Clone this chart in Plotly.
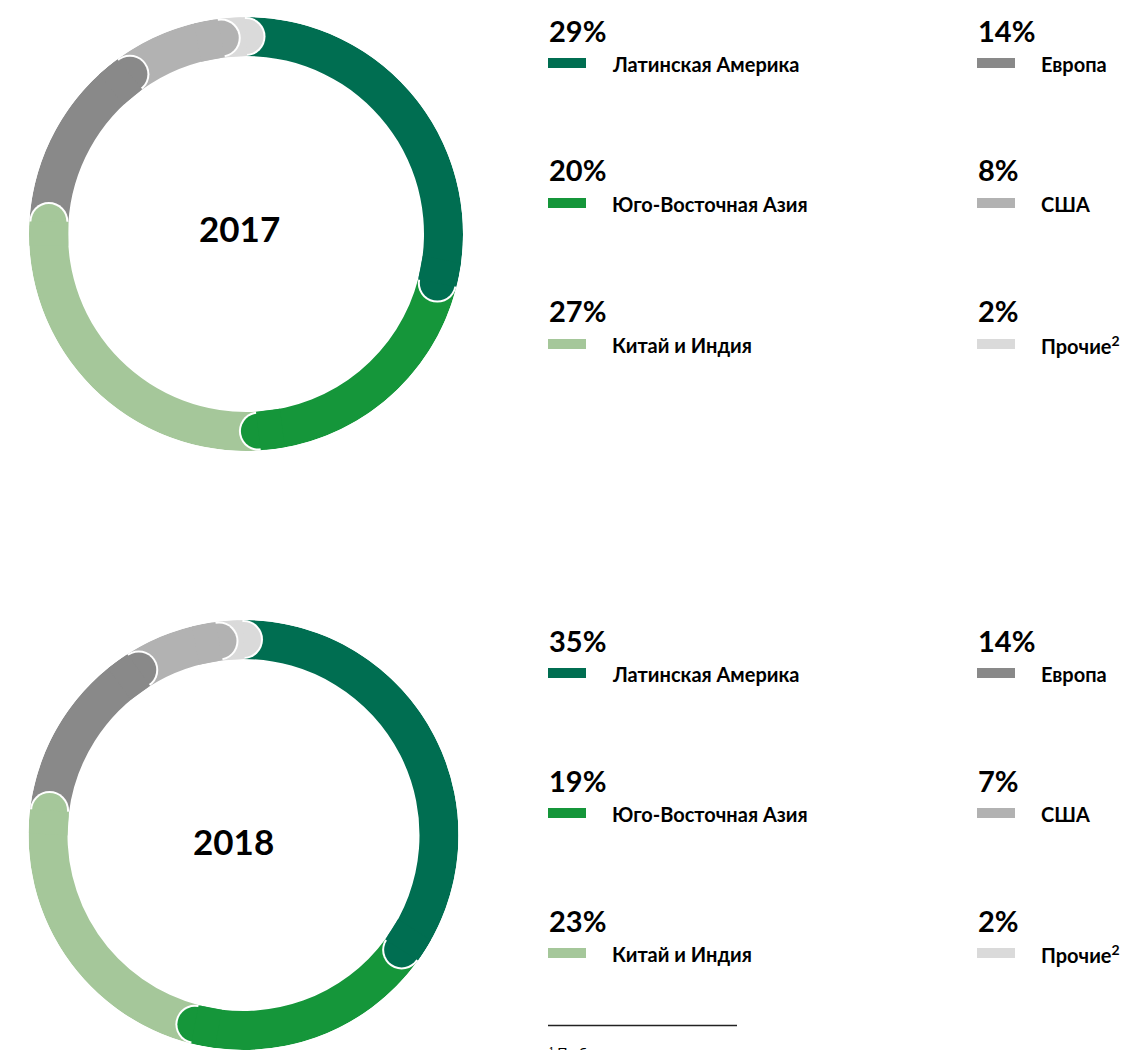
import numpy as np
import plotly.graph_objects as go

W, H = 1137, 1050

# ---------------- data ----------------
regions = ["Латинская Америка", "Юго-Восточная Азия", "Китай и Индия",
           "Европа", "США", "Прочие<sup>2</sup>"]
years = ["2017", "2018"]
shares_2017 = [29, 20, 27, 14, 8, 2]
shares_2018 = [35, 19, 23, 14, 7, 2]
colors = ["#006e51", "#15963a", "#a5c79a", "#898989", "#b2b2b2", "#dadada"]
footnote = "¹ По б"

# ---------------- layout geometry (pixels) ----------------
donuts = [dict(cx=246, cy=234, R=217, lx=239.5, ly=228, rows=[30, 170, 311]),
          dict(cx=243.5, cy=835, R=215, lx=234, ly=841, rows=[640, 780, 920])]
T = 39  # ring thickness
FONT = "Lato"

fig = go.Figure()
annotations = []
shapes = []


def px(x):
    return x / W


def py(y):
    return 1 - y / H


for k, (year, shares) in enumerate(zip(years, [shares_2017, shares_2018])):
    g = donuts[k]
    sub = "polar" if k == 0 else f"polar{k + 1}"
    vals = np.array(shares, dtype=float)
    spans = vals / vals.sum() * 360.0
    ends = np.cumsum(spans)
    starts = ends - spans
    R = g["R"]
    mid = R - T / 2

    fig.add_trace(go.Barpolar(
        theta=(starts + ends) / 2, width=spans, base=[R - T] * len(vals),
        r=[T] * len(vals), marker=dict(color=colors, line=dict(width=0)),
        subplot=sub, hoverinfo="skip", showlegend=False))

    for i in reversed(range(len(vals))):
        fig.add_trace(go.Scatterpolar(
            theta=[ends[i]], r=[mid], mode="markers",
            marker=dict(size=T, color="white", line=dict(width=0)),
            subplot=sub, cliponaxis=False, hoverinfo="skip", showlegend=False))
        fig.add_trace(go.Scatterpolar(
            theta=[ends[i]], r=[mid], mode="markers",
            marker=dict(size=T - 4, color=colors[i], line=dict(width=0)),
            subplot=sub, cliponaxis=False, hoverinfo="skip", showlegend=False))
        d = min(7.0, spans[i])
        fig.add_trace(go.Scatterpolar(
            theta=[ends[i] - d, ends[i]], r=[mid, mid], mode="lines",
            line=dict(color=colors[i], width=T),
            subplot=sub, cliponaxis=False, hoverinfo="skip", showlegend=False))

    fig.update_layout(**{sub: dict(
        domain=dict(x=[px(g["cx"] - R), px(g["cx"] + R)],
                    y=[py(g["cy"] + R), py(g["cy"] - R)]),
        bgcolor="rgba(0,0,0,0)",
        radialaxis=dict(visible=False, range=[0, R]),
        angularaxis=dict(visible=False, rotation=90, direction="clockwise"),
    )})

    # center label
    annotations.append(dict(x=px(g["lx"]), y=py(g["ly"]), xref="paper", yref="paper",
                            text=f"<b>{year}</b>", showarrow=False,
                            xanchor="center", yanchor="middle",
                            font=dict(family=FONT, size=35, color="#000000")))

    # legend
    for i, name in enumerate(regions):
        col = i // 3
        row = i % 3
        x0 = 548 if col == 0 else 977
        yc = g["rows"][row]
        annotations.append(dict(x=px(x0 - 1), y=py(yc), xref="paper", yref="paper",
                                text=f"<b>{shares[i]}%</b>", showarrow=False,
                                xanchor="left", yanchor="middle",
                                font=dict(family=FONT, size=29, color="#000000")))
        shapes.append(dict(type="rect", xref="paper", yref="paper",
                           x0=px(x0), x1=px(x0 + 38),
                           y0=py(yc + 28), y1=py(yc + 38),
                           fillcolor=colors[i], line=dict(width=0)))
        annotations.append(dict(x=px(x0 + 62), y=py(yc + 34), xref="paper", yref="paper",
                                text=f"<b>{name}</b>", showarrow=False,
                                xanchor="left", yanchor="middle",
                                font=dict(family=FONT, size=20, color="#000000")))

# footnote rule and text
shapes.append(dict(type="line", xref="paper", yref="paper",
                   x0=px(548), x1=px(737), y0=py(1025.5), y1=py(1025.5),
                   line=dict(color="#222222", width=1.3)))
annotations.append(dict(x=px(547), y=py(1042), xref="paper", yref="paper",
                        text=footnote, showarrow=False, xanchor="left", yanchor="top",
                        font=dict(family=FONT, size=14, color="#000000")))

fig.update_layout(width=W, height=H, margin=dict(l=0, r=0, t=0, b=0),
                  paper_bgcolor="white", plot_bgcolor="white",
                  showlegend=False, annotations=annotations, shapes=shapes)

fig.write_html("out.html", config={"displayModeBar": False},
               post_script="document.body.style.margin='0';")
